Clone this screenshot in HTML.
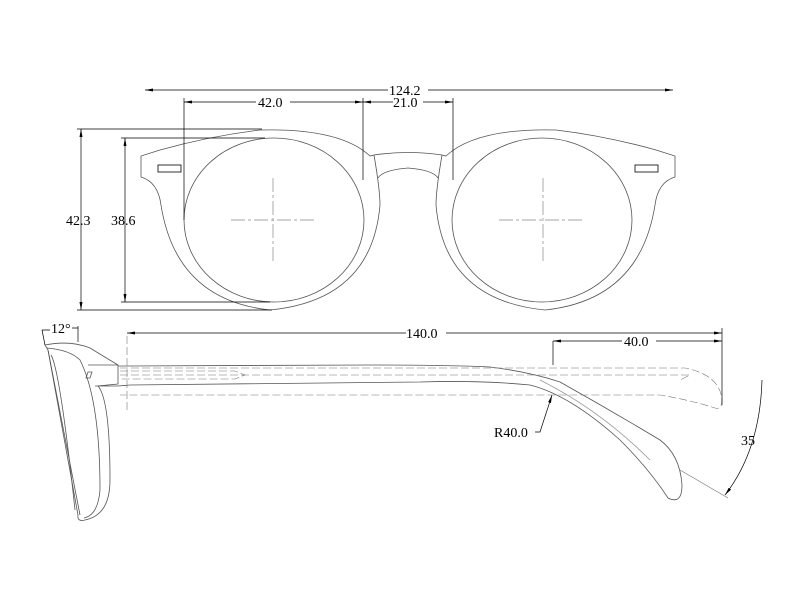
<!DOCTYPE html>
<html><head><style>html,body{margin:0;padding:0;background:#fff}svg{display:block}
text{font-family:"Liberation Serif",serif;font-size:14px;fill:#000}</style></head><body>
<svg width="800" height="600" viewBox="0 0 800 600" xmlns="http://www.w3.org/2000/svg">
<defs><marker id="a" markerWidth="8" markerHeight="6" refX="8" refY="3" orient="auto-start-reverse" markerUnits="userSpaceOnUse"><path d="M0,1.5 L8,3 L0,4.5z" fill="#000"/></marker></defs>
<g fill="none" stroke="#555" stroke-width="0.8">
<!-- front frame -->
<path d="M374,155 Q408,150 442,155 L446,156 Q476,128 556,130 Q606,136 656,150 L675,156 L675,177 Q658,182 655,205 Q640,300 545,310 Q444,300 436,205 Q436,190 442,155"/>
<path d="M374,155 Q380,190 380,205 Q372,300 270,310 Q176,300 161,205 Q158,182 141,177 L141,156 L160,150 Q210,136 260,130 Q340,128 370,156 Z"/>
<path d="M378,178 Q383,170 408,168 Q433,170 438,178"/>
<ellipse cx="274" cy="220" rx="90" ry="82"/>
<ellipse cx="542" cy="220" rx="90" ry="82"/>
<rect x="158" y="165" width="23" height="7" stroke="#000"/>
<rect x="635" y="165" width="23" height="7" stroke="#000"/>
</g>
<g stroke="#888" stroke-width="0.7" stroke-dasharray="14,3,3,3" fill="none">
<path d="M231,220 H317 M273,178 V264"/>
<path d="M499,220 H585 M543,178 V264"/>
</g>
<!-- dims front -->
<g stroke="#000" stroke-width="0.7" fill="none">
<path d="M145,90 H673" marker-start="url(#a)" marker-end="url(#a)"/>
<path d="M184,102 H363" marker-start="url(#a)" marker-end="url(#a)"/>
<path d="M363,102 H453" marker-start="url(#a)" marker-end="url(#a)"/>
<path d="M184,98 V220 M363,98 V180 M453,98 V180"/>
<path d="M81,129 V310" marker-start="url(#a)" marker-end="url(#a)"/>
<path d="M125,138 V302" marker-start="url(#a)" marker-end="url(#a)"/>
<path d="M77,129 H262 M77,310 H272 M121,138 H265 M121,302 H270"/>
</g>
<g fill="#fff"><rect x="388" y="83" width="40" height="13"/><rect x="256" y="95" width="34" height="13"/><rect x="393" y="95" width="30" height="13"/></g>
<text x="389" y="95">124.2</text><text x="258" y="107">42.0</text><text x="393" y="107">21.0</text>
<text x="66" y="225">42.3</text><text x="111" y="225">38.6</text>
<!-- side view -->
<g fill="none" stroke="#555" stroke-width="0.8">
<path d="M45,345 Q70,340 90,348 L118,365 L118,384 L98,386 Q110,400 110,480 Q110,515 85,520 Q77,522 78,515 L48,350 Z"/>
<path d="M47,348 Q70,350 80,360 Q100,400 100,490 Q98,515 84,518"/>
<path d="M48,350 L80,515"/>
<path d="M51,355 Q60,370 75,510"/>
<path d="M88,372 H92 L90,378 H86Z"/>
<path d="M88,365 L118,365 M95,386 L118,386"/>
<path d="M118,366 L370,365 Q450,365 490,367 Q530,372 560,382 Q610,410 660,440 Q680,455 682,485 Q682,505 668,498 Q650,470 620,440 Q570,395 530,385 Q480,380 420,382 L130,385 L118,386"/>
<path d="M540,380 Q600,410 650,460" stroke="#999"/>
</g>
<g fill="none" stroke="#777" stroke-width="0.6" stroke-dasharray="8,3">
<path d="M120,371 H235 L245,375 L235,379 H120"/>
<path d="M120,375 H690 L680,380"/>
<path d="M120,368 H685 Q720,375 722,400 Q722,410 715,408 Q690,400 660,395 H120"/>
<path d="M127,336 V412"/>
</g>
<!-- side dims -->
<g stroke="#000" stroke-width="0.7" fill="none">
<path d="M127,333 H722" marker-start="url(#a)" marker-end="url(#a)"/>
<path d="M553,341 H722" marker-start="url(#a)" marker-end="url(#a)"/>
<path d="M722,328 V405 M553,341 V365"/>
<path d="M42,330 L45,345 M78,326 V342 M42,330 H50 M72,328 H78"/>
<path d="M535,432 H540 L552,395" marker-end="url(#a)"/>
<path d="M762,380 Q760,450 725,495" marker-end="url(#a)"/>
<path d="M680,470 L728,498" stroke="#777"/>
</g>
<g fill="#fff"><rect x="406" y="326" width="40" height="13"/><rect x="622" y="334" width="34" height="13"/></g>
<text x="406" y="338">140.0</text><text x="624" y="346">40.0</text>
<text x="494" y="437">R40.0</text><text x="741" y="445">35</text>
<text x="51" y="333">12°</text>
</svg></body></html>
